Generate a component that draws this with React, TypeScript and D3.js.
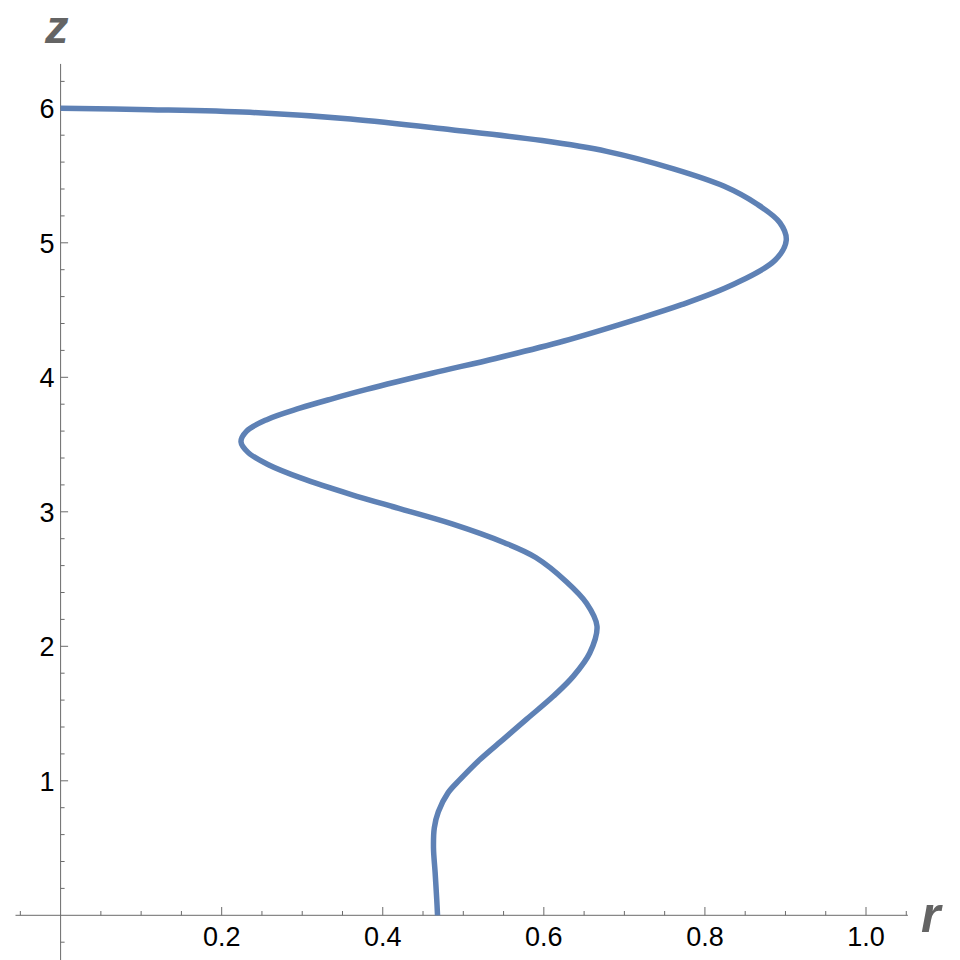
import React from 'react';
import * as d3 from 'd3';

// points, bottom to top (r is a single-valued function of z)
const zVals = [0, 0.12, 0.32, 0.5, 0.65, 0.77, 0.91, 1.01, 1.16, 1.31, 1.46, 1.63, 1.78, 1.95, 2.15, 2.32, 2.48, 2.66, 2.77, 2.91, 3.02, 3.13, 3.25, 3.35, 3.44, 3.52, 3.6, 3.685, 3.77, 3.84, 3.91, 4.03, 4.14, 4.27, 4.42, 4.54, 4.69, 4.87, 5.02, 5.15, 5.29, 5.42, 5.55, 5.68, 5.76, 5.84, 5.92, 5.97, 5.99, 6.0];
const rVals = [0.468, 0.467, 0.465, 0.463, 0.464, 0.469, 0.481, 0.496, 0.521, 0.55, 0.579, 0.612, 0.637, 0.657, 0.666, 0.653, 0.628, 0.59, 0.551, 0.486, 0.423, 0.36, 0.299, 0.258, 0.233, 0.224, 0.231, 0.256, 0.297, 0.337, 0.38, 0.461, 0.54, 0.625, 0.709, 0.771, 0.835, 0.887, 0.901, 0.893, 0.864, 0.824, 0.761, 0.678, 0.598, 0.485, 0.36, 0.235, 0.111, 0];

const xMajor = [0.2, 0.4, 0.6, 0.8, 1.0];
const yMajor = [1, 2, 3, 4, 5, 6];

const W = 960, H = 960;
const axisColor = '#6b6b6b';
const lineColor = '#5e81b5';

export default function App() {
  const x = d3.scaleLinear().domain([0, 1]).range([60.6, 866]);
  const y = d3.scaleLinear().domain([0, 6]).range([915.3, 108.3]);

  const xMinor = d3.range(-1, 22).map(i => i * 0.05).filter(v => Math.abs(v) > 1e-6 && !xMajor.some(m => Math.abs(m - v) < 1e-6));
  const yMinor = d3.range(-1, 32).map(i => i * 0.2).filter(v => Math.abs(v) > 1e-6 && !yMajor.some(m => Math.abs(m - v) < 1e-6));

  const pts: [number, number][] = zVals.map((z, i) => [rVals[i], z]);
  const line = d3.line<[number, number]>()
    .x(d => x(d[0]))
    .y(d => y(d[1]))
    .curve(d3.curveCatmullRom.alpha(0.5));

  const x0 = x(0), y0 = y(0);
  const font = 'Arial, "Liberation Sans", sans-serif';

  return (
    <div style={{ position: 'absolute', left: 0, top: 0 }}>
      <svg width={W} height={H} style={{ display: 'block', background: '#fff' }}>
        {/* axes */}
        <line x1={x(-0.056)} x2={x(1.052)} y1={y0} y2={y0} stroke={axisColor} strokeWidth={1} />
        <line x1={x0} x2={x0} y1={y(6.33)} y2={H} stroke={axisColor} strokeWidth={1} />

        {xMinor.map(v => (
          <line key={'xm' + v} x1={x(v)} x2={x(v)} y1={y0} y2={y0 - 4.3} stroke={axisColor} strokeWidth={1} />
        ))}
        {xMajor.map(v => (
          <g key={'xM' + v}>
            <line x1={x(v)} x2={x(v)} y1={y0} y2={y0 - 8.3} stroke={axisColor} strokeWidth={1} />
            <text x={x(v)} y={y0 + 31} textAnchor="middle" fontFamily={font} fontSize={27} fill="#000">
              {v.toFixed(1)}
            </text>
          </g>
        ))}

        {yMinor.map(v => (
          <line key={'ym' + v} x1={x0} x2={x0 + 4} y1={y(v)} y2={y(v)} stroke={axisColor} strokeWidth={1} />
        ))}
        {yMajor.map(v => (
          <g key={'yM' + v}>
            <line x1={x0} x2={x0 + 7.5} y1={y(v)} y2={y(v)} stroke={axisColor} strokeWidth={1} />
            <text x={54.5} y={y(v) + 9.8} textAnchor="end" fontFamily={font} fontSize={27} fill="#000">
              {v}
            </text>
          </g>
        ))}

        {/* curve */}
        <path d={line(pts) || ''} fill="none" stroke={lineColor} strokeWidth={5.5} strokeLinejoin="round" />

        {/* axis labels */}
        <text x={45} y={43} fontFamily={font} fontSize={47} fontStyle="italic" fontWeight="bold" fill="#646464">z</text>
        <text x={921} y={932} fontFamily={font} fontSize={50} fontStyle="italic" fontWeight="bold" fill="#646464">r</text>
      </svg>
    </div>
  );
}
